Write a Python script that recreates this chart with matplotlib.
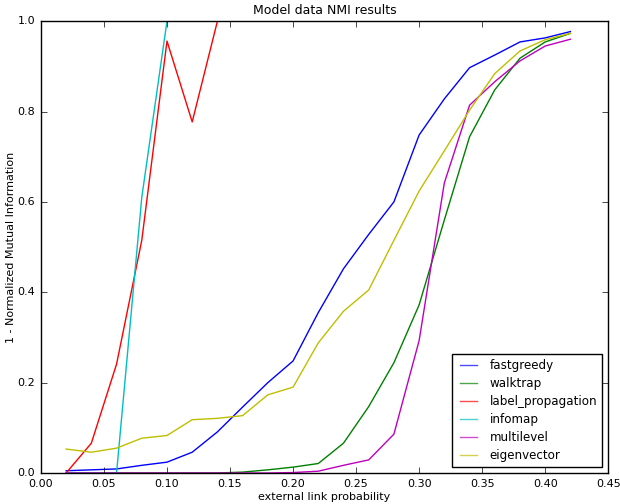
import matplotlib
matplotlib.use('Agg')
import matplotlib.pyplot as plt

plt.style.use('classic')

# external link probability
x = [0.02, 0.04, 0.06, 0.08, 0.10, 0.12, 0.14, 0.16, 0.18, 0.20, 0.22,
     0.24, 0.26, 0.28, 0.30, 0.32, 0.34, 0.36, 0.38, 0.40, 0.42]

fastgreedy = [0.005, 0.007, 0.009, 0.017, 0.024, 0.046, 0.091, 0.146, 0.200, 0.248, 0.355,
              0.452, 0.528, 0.600, 0.748, 0.828, 0.897, 0.925, 0.954, 0.963, 0.977]
walktrap = [0, 0, 0, 0, 0, 0, 0, 0.002, 0.007, 0.013, 0.021,
            0.066, 0.147, 0.244, 0.372, 0.560, 0.744, 0.848, 0.918, 0.954, 0.973]
label_propagation = [0.0, 0.066, 0.241, 0.515, 0.956, 0.777, 1.0, 1.0, 1.0, 1.0, 1.0,
                     1.0, 1.0, 1.0, 1.0, 1.0, 1.0, 1.0, 1.0, 1.0, 1.0]
infomap = [0, 0, 0, 0.61, 1.0, 1.0, 1.0, 1.0, 1.0, 1.0, 1.0,
           1.0, 1.0, 1.0, 1.0, 1.0, 1.0, 1.0, 1.0, 1.0, 1.0]
multilevel = [0, 0, 0, 0, 0, 0, 0, 0, 0, 0.001, 0.004,
              0.017, 0.029, 0.086, 0.293, 0.642, 0.814, 0.866, 0.912, 0.945, 0.960]
eigenvector = [0.053, 0.046, 0.055, 0.077, 0.083, 0.118, 0.121, 0.127, 0.173, 0.190, 0.288,
               0.358, 0.405, 0.515, 0.624, 0.713, 0.803, 0.884, 0.934, 0.959, 0.973]

fig = plt.figure(figsize=(6.2, 5.04), dpi=100)
ax = fig.add_axes([0.066, 0.0615, 0.915, 0.8965])

ax.plot(x, fastgreedy, 'b', label='fastgreedy')
ax.plot(x, walktrap, 'g', label='walktrap')
ax.plot(x, label_propagation, 'r', label='label_propagation')
ax.plot(x, infomap, 'c', label='infomap')
ax.plot(x, multilevel, 'm', label='multilevel')
ax.plot(x, eigenvector, 'y', label='eigenvector')

ax.set_xlim(0, 0.45)
ax.set_ylim(0, 1.0)
ax.tick_params(labelsize=8)

ax.set_title('Model data NMI results', fontsize=9)
ax.set_xlabel('external link probability', fontsize=8, labelpad=2.5)
ax.set_ylabel('1 - Normalized Mutual Information', fontsize=8, labelpad=1)

leg = ax.legend(loc='lower right', fontsize=8.6, labelspacing=0.42)
for h in leg.get_lines():
    h.set_alpha(0.7)

fig.savefig('out.png', dpi=100)
